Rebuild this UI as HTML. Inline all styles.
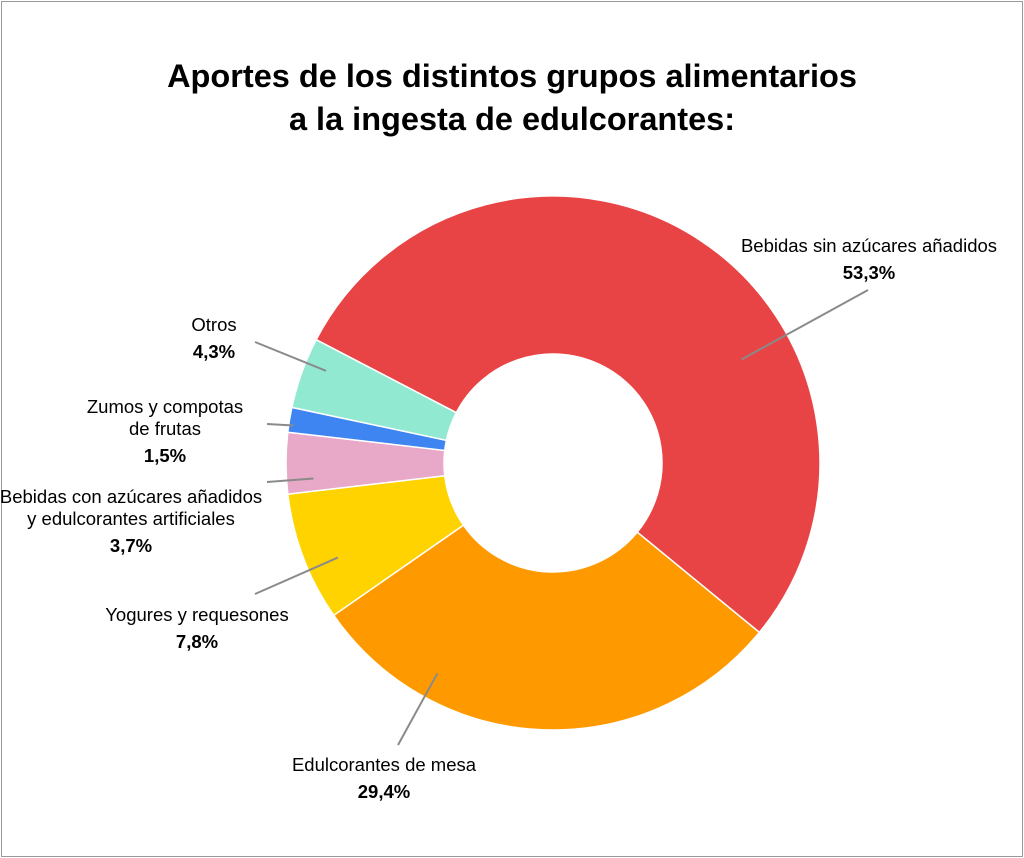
<!DOCTYPE html>
<html><head><meta charset="utf-8"><style>
html,body{margin:0;padding:0;background:#fff}
#frame{position:absolute;left:1px;top:1px;width:1020px;height:854px;border:1px solid #9a9a9a;background:#fff}
svg{position:absolute;left:0;top:0}
text{font-family:"Liberation Sans",Arial,sans-serif}
</style></head><body>
<div id="frame"></div>
<svg id="chart" width="1024" height="858">
<text x="512" y="87" text-anchor="middle" font-size="32.5" font-weight="bold">Aportes de los distintos grupos alimentarios</text>
<text x="512" y="130" text-anchor="middle" font-size="32.5" font-weight="bold">a la ingesta de edulcorantes:</text>
<g id="slices"></g><g id="leaders"></g><g id="labels"></g>
</svg>
<script>
const categories = ["Bebidas sin azúcares añadidos","Edulcorantes de mesa","Yogures y requesones","Bebidas con azúcares añadidos y edulcorantes artificiales","Zumos y compotas de frutas","Otros"];
const values = [53.3, 29.4, 7.8, 3.7, 1.5, 4.3];
const valueLabels = ["53,3%","29,4%","7,8%","3,7%","1,5%","4,3%"];
const labelLines = [["Bebidas sin azúcares añadidos"],["Edulcorantes de mesa"],["Yogures y requesones"],["Bebidas con azúcares añadidos","y edulcorantes artificiales"],["Zumos y compotas","de frutas"],["Otros"]];
const colors = ["#e94445","#fe9a00","#fed300","#e8a8c8","#3f85f2","#92e9d2"];
// layout (not data)
const cx=553, cy=463, R=267, r=109, startDeg=-62.5;
const labelPos=[[869,252],[384,771],[197,621],[131,503],[165,413],[214,331]];
const leaderEnd=[[868,290],[398,745],[255,594],[267,482],[267,424],[255,342]];
const leaderR=[215,240,235,240,262,245];
const ns="http://www.w3.org/2000/svg";
const total=values.reduce((a,b)=>a+b,0);
function pt(deg,rad){const a=deg*Math.PI/180;return [cx+rad*Math.sin(a),cy-rad*Math.cos(a)];}
let acc=startDeg;
const gS=document.getElementById('slices'),gL=document.getElementById('leaders'),gT=document.getElementById('labels');
values.forEach((v,i)=>{
  const span=v/total*360, a0=acc, a1=acc+span; acc=a1;
  const large=span>180?1:0;
  const p0=pt(a0,R),p1=pt(a1,R),q1=pt(a1,r),q0=pt(a0,r);
  const path=document.createElementNS(ns,'path');
  path.setAttribute('d',`M${p0[0]},${p0[1]}A${R},${R} 0 ${large} 1 ${p1[0]},${p1[1]}L${q1[0]},${q1[1]}A${r},${r} 0 ${large} 0 ${q0[0]},${q0[1]}Z`);
  path.setAttribute('fill',colors[i]);path.setAttribute('stroke','#fff');path.setAttribute('stroke-width','1.5');
  
  
  gS.appendChild(path);
  const [ex,ey]=leaderEnd[i];
  let dir=Math.atan2(ex-cx,-(ey-cy))*180/Math.PI;
  while(dir<a0)dir+=360; while(dir>a0+360)dir-=360;
  const pad=Math.min(span*0.3,3);
  if(dir>a1-pad){ dir=(dir-a1 < a0+360-dir)?a1-pad:a0+pad; }
  if(dir<a0+pad)dir=a0+pad;
  const mid=pt(dir,leaderR[i]);
  const ln=document.createElementNS(ns,'line');
  ln.setAttribute('x1',mid[0]);ln.setAttribute('y1',mid[1]);ln.setAttribute('x2',ex);ln.setAttribute('y2',ey);
  ln.setAttribute('stroke','#8a8a8a');ln.setAttribute('stroke-width','2');
  
  
  gL.appendChild(ln);
  const [lx,ly]=labelPos[i];
  labelLines[i].forEach((s,k)=>{
    const t=document.createElementNS(ns,'text');
    t.setAttribute('x',lx);t.setAttribute('y',ly+k*22);t.setAttribute('text-anchor','middle');t.setAttribute('font-size','18.5');
    t.textContent=s;
    
    
    gT.appendChild(t);
  });
  const tv=document.createElementNS(ns,'text');
  tv.setAttribute('x',lx);tv.setAttribute('y',ly+labelLines[i].length*22+5);tv.setAttribute('text-anchor','middle');tv.setAttribute('font-size','18.5');tv.setAttribute('font-weight','bold');
  tv.textContent=valueLabels[i];
  
  
  gT.appendChild(tv);
});
</script>
</body></html>
